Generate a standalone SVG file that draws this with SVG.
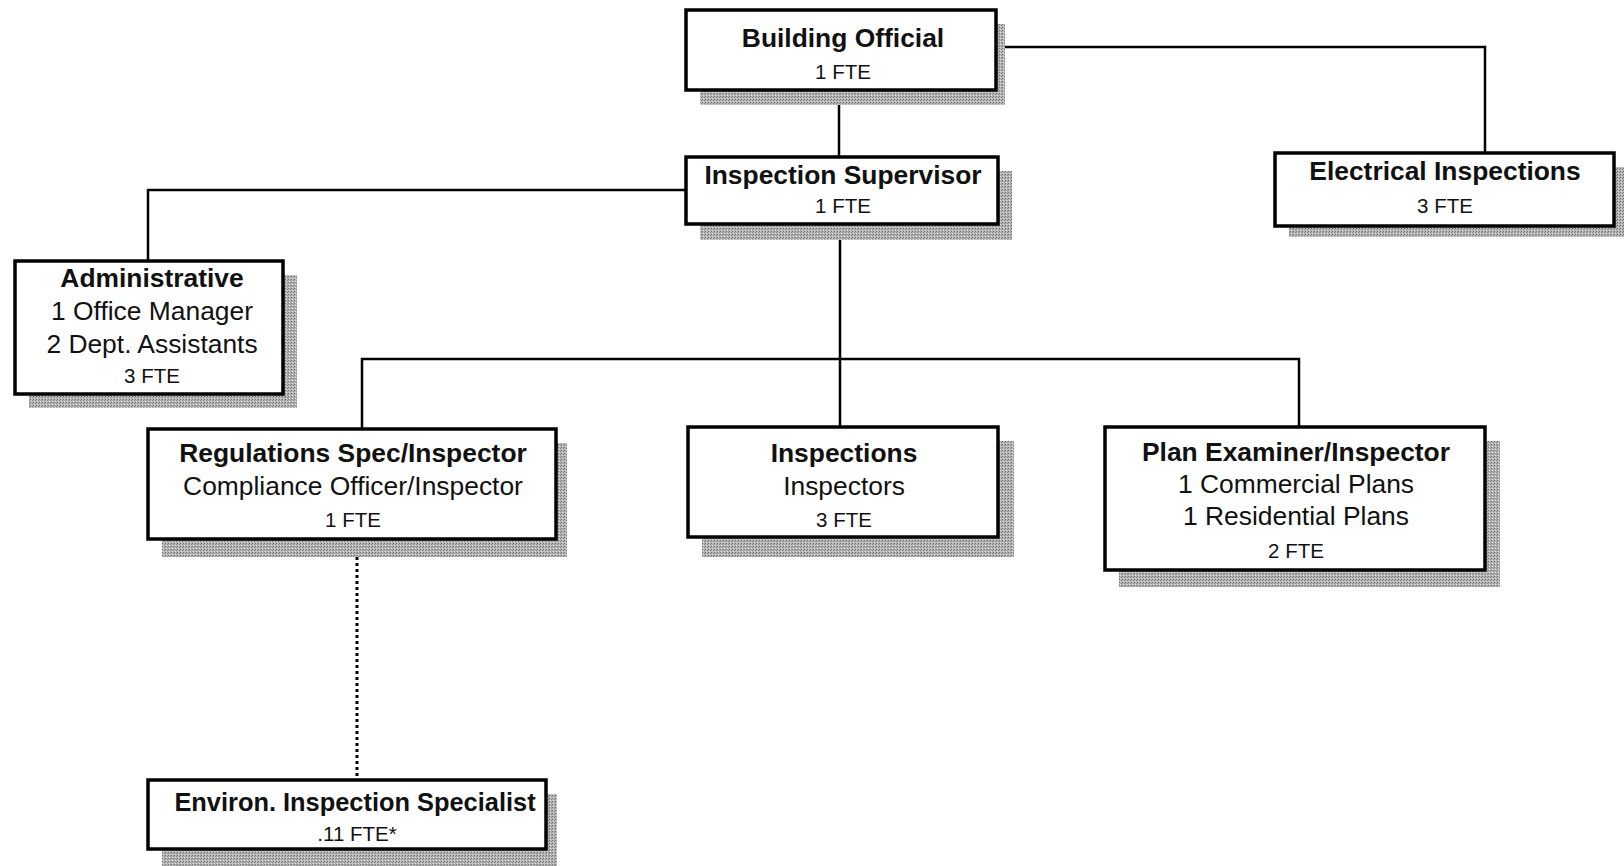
<svg xmlns="http://www.w3.org/2000/svg" width="1624" height="866" viewBox="0 0 1624 866">
<defs>
<pattern id="hatch" width="3" height="3" patternUnits="userSpaceOnUse">
<rect width="3" height="3" fill="#b4b4b4"/>
<rect width="1" height="1" fill="#6e6e6e"/>
<rect x="2" y="1" width="1" height="1" fill="#8a8a8a"/>
<rect x="1" y="2" width="1" height="1" fill="#dcdcdc"/>
</pattern>
</defs>
<style>
.box{fill:#fff;stroke:#000;stroke-width:3.5}
.sh{fill:url(#hatch)}
.ln{fill:none;stroke:#000;stroke-width:2.5}
.dot{fill:none;stroke:#000;stroke-width:3;stroke-dasharray:3 3}
text{font-family:"Liberation Sans",Arial,sans-serif;text-anchor:middle;fill:#111}
.t{font-weight:bold;font-size:26.4px}
.r{font-size:26.4px}
.s{font-size:20.5px}
</style>
<rect width="1624" height="866" fill="#fff"/>
<g id="connectors">
<path class="ln" d="M839 90 V157"/>
<path class="ln" d="M996 47 H1485 V153"/>
<path class="ln" d="M686 190 H148 V261"/>
<path class="ln" d="M840 224 V427"/>
<path class="ln" d="M362 429 V359 H1299 V427"/>
<path class="dot" d="M357 539 V780"/>
</g>
<g id="building-official">
<rect class="sh" x="700" y="24" width="305" height="81"/>
<rect class="box" x="686" y="10" width="310" height="80"/>
<text class="t" x="843" y="47">Building Official</text>
<text class="s" x="843" y="79">1 FTE</text>
</g>
<g id="inspection-supervisor">
<rect class="sh" x="700" y="171" width="312" height="69"/>
<rect class="box" x="686" y="157" width="312" height="67"/>
<text class="t" x="843" y="184">Inspection Supervisor</text>
<text class="s" x="843" y="213">1 FTE</text>
</g>
<g id="electrical-inspections">
<rect class="sh" x="1289" y="167" width="335" height="70"/>
<rect class="box" x="1275" y="153" width="339" height="73"/>
<text class="t" x="1445" y="180">Electrical Inspections</text>
<text class="s" x="1445" y="213">3 FTE</text>
</g>
<g id="administrative">
<rect class="sh" x="29" y="275" width="268" height="133"/>
<rect class="box" x="15" y="261" width="268" height="133"/>
<text class="t" x="152" y="287">Administrative</text>
<text class="r" x="152" y="320">1 Office Manager</text>
<text class="r" x="152" y="353">2 Dept. Assistants</text>
<text class="s" x="152" y="383">3 FTE</text>
</g>
<g id="regulations">
<rect class="sh" x="162" y="443" width="405" height="114"/>
<rect class="box" x="148" y="429" width="408" height="110"/>
<text class="t" x="353" y="462">Regulations Spec/Inspector</text>
<text class="r" x="353" y="495">Compliance Officer/Inspector</text>
<text class="s" x="353" y="527">1 FTE</text>
</g>
<g id="inspections">
<rect class="sh" x="702" y="441" width="312" height="116"/>
<rect class="box" x="688" y="427" width="310" height="110"/>
<text class="t" x="844" y="462">Inspections</text>
<text class="r" x="844" y="495">Inspectors</text>
<text class="s" x="844" y="527">3 FTE</text>
</g>
<g id="plan-examiner">
<rect class="sh" x="1119" y="441" width="381" height="146"/>
<rect class="box" x="1105" y="427" width="380" height="143"/>
<text class="t" x="1296" y="461">Plan Examiner/Inspector</text>
<text class="r" x="1296" y="493">1 Commercial Plans</text>
<text class="r" x="1296" y="525">1 Residential Plans</text>
<text class="s" x="1296" y="558">2 FTE</text>
</g>
<g id="environ">
<rect class="sh" x="162" y="794" width="395" height="72"/>
<rect class="box" x="148" y="780" width="398" height="69"/>
<text class="t" x="355" y="811" style="font-size:25.4px">Environ. Inspection Specialist</text>
<text class="s" x="357" y="841">.11 FTE*</text>
</g>
</svg>
